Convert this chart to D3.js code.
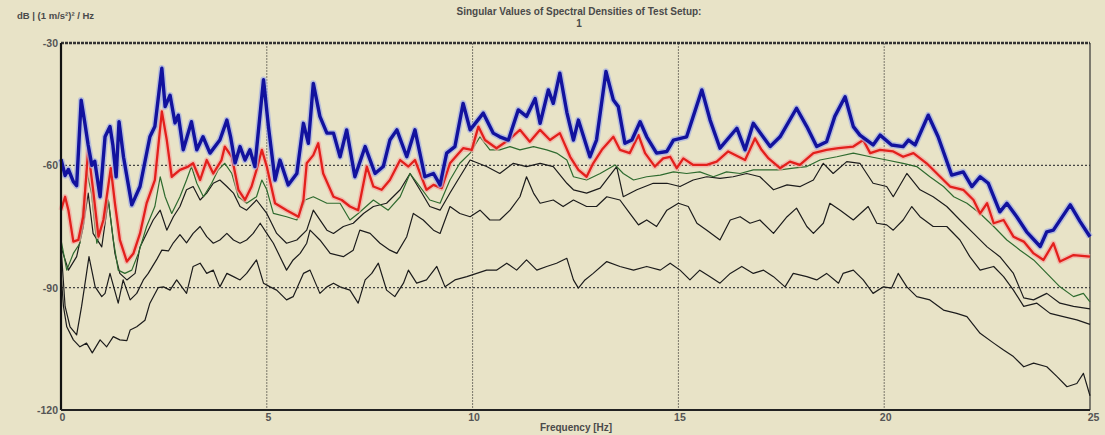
<!DOCTYPE html>
<html>
<head>
<meta charset="utf-8">
<script src="https://cdn.jsdelivr.net/npm/d3@7"></script>
<style>
  html, body { margin: 0; padding: 0; background: #e8e3c7; }
  svg { display: block; }
  text { font-family: "Liberation Sans", Arial, sans-serif; font-weight: bold; fill: #4a4a4a; }
</style>
</head>
<body>
<svg id="chart"></svg>
<script>
// singular value curves, [frequency Hz, dB]
const sv1 = [[0,-58.5],[0.1,-62.5],[0.18,-61],[0.3,-64],[0.38,-65],[0.49,-44],[0.57,-49],[0.66,-55],[0.75,-60],[0.82,-59],[0.95,-67.7],[1.07,-53],[1.19,-50.5],[1.26,-55],[1.34,-62.8],[1.41,-49.3],[1.52,-58],[1.72,-69.7],[1.92,-65.2],[2.16,-53],[2.28,-50.5],[2.45,-36.2],[2.53,-45.6],[2.65,-42.8],[2.77,-49.6],[2.85,-47.7],[2.97,-56.2],[3.17,-49.3],[3.3,-56.2],[3.45,-53],[3.62,-57],[3.86,-53.8],[4.03,-48.9],[4.12,-53],[4.23,-59.4],[4.35,-55.4],[4.47,-58.7],[4.59,-56.2],[4.71,-60.3],[4.92,-39],[5.04,-50.5],[5.2,-63.6],[5.32,-58.7],[5.52,-64.8],[5.73,-62],[5.89,-49.7],[6.01,-54.6],[6.13,-39.9],[6.29,-48],[6.46,-52.1],[6.62,-52.1],[6.78,-57.9],[6.94,-51.3],[7.14,-62.8],[7.39,-55.4],[7.63,-62],[7.83,-60.3],[7.99,-53.8],[8.16,-51.3],[8.4,-57.9],[8.6,-51.3],[8.84,-62.8],[9.05,-62],[9.21,-64.8],[9.37,-57],[9.57,-55.4],[9.77,-44.8],[9.94,-51.3],[10.26,-47.2],[10.5,-52.1],[10.66,-53],[10.87,-53.8],[11.11,-46.4],[11.31,-48],[11.52,-43.6],[11.64,-49.7],[11.84,-41.5],[11.96,-44.8],[12.12,-37.4],[12.29,-47],[12.45,-53.8],[12.57,-48.9],[12.85,-57.9],[13.01,-53.8],[13.24,-37],[13.42,-44],[13.54,-45.6],[13.7,-54.6],[13.87,-53.8],[14.07,-49.3],[14.23,-53],[14.47,-57],[14.72,-56.6],[14.88,-53.8],[15.2,-53],[15.57,-41.5],[15.77,-48.9],[16.01,-55.8],[16.42,-50.9],[16.62,-56.2],[16.82,-49.7],[17.23,-55.4],[17.47,-53],[17.87,-46],[18.12,-50.5],[18.36,-55.4],[18.6,-54.2],[18.8,-48],[19.05,-43.2],[19.25,-50.5],[19.41,-52.6],[19.73,-55],[19.9,-52.6],[20.18,-55],[20.46,-55.4],[20.59,-53.8],[20.75,-55],[21.07,-47.7],[21.31,-53],[21.64,-62.4],[21.92,-61.6],[22.13,-65.2],[22.33,-62.8],[22.53,-64.4],[22.81,-71.4],[22.98,-69.3],[23.22,-72.6],[23.46,-76.3],[23.79,-79.9],[23.95,-76.3],[24.11,-75.9],[24.52,-69.7],[24.76,-73.8],[25,-77.5]];

const sv2 = [[0,-71],[0.1,-67.7],[0.18,-71],[0.3,-78.7],[0.42,-78.3],[0.54,-72.6],[0.66,-56.2],[0.78,-66],[0.91,-77.5],[1.03,-73.4],[1.21,-60.7],[1.31,-69.3],[1.43,-78.3],[1.6,-83.6],[1.76,-81.6],[1.92,-76.7],[2.08,-69.3],[2.28,-63.6],[2.45,-46.8],[2.57,-53.8],[2.69,-62.8],[2.89,-61.1],[3.09,-60.3],[3.21,-59.5],[3.38,-63.6],[3.54,-58.7],[3.7,-62],[3.9,-58.7],[3.98,-55.4],[4.15,-57.9],[4.31,-66],[4.47,-68.5],[4.63,-65.2],[4.75,-61.1],[4.88,-56.2],[5,-60.3],[5.2,-69.3],[5.48,-71],[5.77,-72.6],[5.89,-68.5],[5.97,-59.5],[6.13,-57.5],[6.25,-54.6],[6.37,-62],[6.62,-67.7],[6.82,-68.5],[7.02,-70.1],[7.22,-71],[7.43,-60.3],[7.59,-65.2],[7.79,-66],[7.99,-63.6],[8.24,-58.7],[8.44,-60.3],[8.6,-58.7],[8.88,-66],[9.05,-64.8],[9.25,-65.6],[9.45,-59.5],[9.77,-55.8],[9.98,-56.2],[10.14,-50.5],[10.3,-53.8],[10.58,-55.8],[10.87,-53.8],[11.15,-51.3],[11.39,-54.2],[11.64,-51.3],[11.88,-53.8],[12.12,-52.1],[12.37,-57.9],[12.57,-61.1],[12.77,-62.8],[12.93,-59.5],[13.14,-56.2],[13.42,-53],[13.58,-56.2],[13.82,-57],[14.03,-52.6],[14.19,-57],[14.43,-60.3],[14.63,-58.3],[14.8,-57.9],[14.96,-60.7],[15.12,-58.3],[15.36,-59.9],[15.69,-59.9],[15.93,-59.1],[16.21,-56.6],[16.62,-58.7],[16.86,-53.4],[17.02,-56.2],[17.19,-58.3],[17.47,-60.7],[17.71,-59.1],[17.95,-59.9],[18.28,-57],[18.6,-56.2],[18.89,-55.8],[19.25,-55.4],[19.49,-53.8],[19.66,-57],[19.9,-56.2],[20.22,-56.6],[20.46,-57.9],[20.71,-57],[21.03,-59.5],[21.44,-63.6],[21.6,-65.2],[21.92,-66],[22.17,-68.5],[22.33,-71.8],[22.5,-69.3],[22.66,-74.2],[22.9,-73.4],[23.14,-77.5],[23.39,-78.7],[23.63,-81.6],[23.87,-83.2],[24.11,-79.1],[24.27,-83.6],[24.6,-82],[25,-82.4]];

const sv3 = [[0,-78.3],[0.14,-85.7],[0.3,-81.6],[0.46,-79.1],[0.62,-61.1],[0.74,-66.8],[0.87,-79.1],[1.03,-73.4],[1.15,-68.5],[1.27,-78.3],[1.39,-85.7],[1.55,-86.5],[1.72,-85.7],[1.88,-81.6],[2.08,-75],[2.28,-70.1],[2.41,-62.8],[2.53,-67.7],[2.69,-71.8],[2.89,-67.7],[3.05,-63.6],[3.17,-60.3],[3.3,-64.4],[3.46,-67.7],[3.66,-64.4],[3.82,-61.1],[3.98,-59.5],[4.15,-62],[4.31,-67.7],[4.51,-69.3],[4.75,-67.7],[4.88,-63.6],[5,-66],[5.16,-71.8],[5.48,-72.6],[5.73,-73.4],[5.93,-68.5],[6.13,-67.7],[6.46,-69.3],[6.78,-69.3],[7.02,-73.4],[7.22,-71.8],[7.59,-68.5],[7.95,-71],[8.24,-67.7],[8.48,-62],[8.72,-65.2],[8.96,-68.5],[9.21,-69.3],[9.45,-63.6],[9.69,-59.5],[9.94,-57],[10.18,-53],[10.42,-56.2],[10.66,-56.2],[10.91,-55.4],[11.15,-56.2],[11.48,-55.4],[11.8,-56.2],[12.04,-57],[12.29,-58.7],[12.45,-62.8],[12.77,-63.6],[13.1,-62],[13.46,-59.9],[13.66,-62],[13.91,-63.6],[14.23,-62.8],[14.56,-62.4],[14.88,-61.6],[15.2,-62],[15.52,-61.6],[15.85,-62.8],[16.17,-61.6],[16.5,-62],[16.82,-61.1],[17.15,-61.1],[17.47,-61.1],[17.79,-60.7],[18.12,-60.3],[18.44,-58.7],[18.85,-57.9],[19.25,-57],[19.66,-57.9],[20.06,-58.7],[20.46,-59.5],[20.79,-60.3],[21.11,-62.8],[21.44,-65.2],[21.69,-67.7],[22.01,-69.3],[22.33,-71.8],[22.66,-75],[22.98,-78.3],[23.3,-80.8],[23.63,-83.2],[23.95,-86.5],[24.27,-89.8],[24.6,-92.2],[24.84,-91.4],[25,-93.5]];

const sv4 = [[0,-80],[0.18,-85.7],[0.38,-82.4],[0.54,-75],[0.66,-66.8],[0.78,-76.7],[0.99,-80],[1.15,-68.5],[1.31,-81.6],[1.43,-86.5],[1.6,-88.1],[1.8,-86.5],[1.92,-80],[2.08,-76.7],[2.24,-73.4],[2.41,-71],[2.57,-75.9],[2.73,-72.6],[2.89,-70.1],[3.05,-66],[3.21,-65.2],[3.38,-68.5],[3.54,-66.8],[3.7,-64.4],[3.86,-63.6],[4.03,-65.2],[4.19,-66.8],[4.35,-70.1],[4.51,-71],[4.75,-68.5],[5,-71.8],[5.24,-76.7],[5.48,-79.1],[5.73,-78.3],[5.97,-75.9],[6.13,-71],[6.46,-75.9],[6.62,-76.7],[6.86,-75],[7.1,-74.2],[7.35,-71.8],[7.59,-70.1],[7.91,-69.3],[8.24,-66],[8.48,-62],[8.72,-66],[8.96,-70.1],[9.21,-71],[9.45,-66.8],[9.69,-62.8],[9.94,-58.7],[10.34,-60.3],[10.66,-62],[10.99,-59.5],[11.31,-60.3],[11.64,-59.5],[11.96,-60.3],[12.29,-64.4],[12.45,-66],[12.77,-66.8],[13.1,-65.6],[13.5,-60.3],[13.66,-67.7],[13.99,-66],[14.39,-64.4],[14.72,-64.4],[15.04,-65.2],[15.36,-63.6],[15.69,-62.8],[16.01,-63.2],[16.33,-62.8],[16.66,-62],[16.98,-62.8],[17.31,-66],[17.64,-64.8],[17.96,-65.2],[18.28,-63.6],[18.52,-59.5],[18.76,-62],[19.09,-59.1],[19.41,-59.5],[19.73,-64.4],[20.06,-65.2],[20.22,-67.7],[20.55,-62],[20.87,-66],[21.19,-67.7],[21.52,-70.1],[21.84,-73.4],[22.17,-76.7],[22.5,-80],[22.81,-82.4],[23.14,-86.5],[23.39,-92.5],[23.63,-93],[23.95,-91.4],[24.27,-93.8],[24.6,-94.6],[25,-95.2]];

const sv5 = [[0,-80],[0.1,-94.6],[0.22,-99.6],[0.38,-101.6],[0.5,-94.6],[0.62,-86.5],[0.68,-82.4],[0.83,-89.8],[0.99,-92.2],[1.07,-91.4],[1.19,-86.5],[1.39,-93.8],[1.51,-88.1],[1.68,-93],[1.84,-91.4],[2,-88.1],[2.12,-86.5],[2.33,-83],[2.45,-80.8],[2.61,-81],[2.73,-79],[2.89,-77],[3.05,-79],[3.21,-76.7],[3.38,-75],[3.54,-77.5],[3.7,-79.1],[3.86,-78.3],[4.03,-76.7],[4.19,-78.3],[4.35,-79.1],[4.51,-78.3],[4.67,-76.7],[4.84,-74.2],[5,-76.7],[5.16,-79.1],[5.32,-82.4],[5.48,-85.7],[5.64,-83.2],[5.81,-81.6],[5.97,-79.1],[6.05,-75.9],[6.29,-78.3],[6.54,-81.6],[6.86,-82.4],[7.1,-80.8],[7.26,-75.9],[7.51,-76.7],[7.75,-79.1],[7.99,-80.8],[8.16,-81.6],[8.4,-77.5],[8.56,-71.8],[8.8,-73.4],[9.05,-75.9],[9.21,-76.7],[9.45,-70.1],[9.69,-71.8],[9.94,-72.6],[10.18,-71],[10.42,-73.4],[10.66,-73.4],[10.91,-71],[11.15,-67.7],[11.31,-62.8],[11.48,-66.8],[11.64,-69.3],[11.96,-68.5],[12.2,-70.1],[12.45,-68.5],[12.77,-70.1],[13.01,-70.1],[13.26,-67.7],[13.58,-68.5],[13.82,-71.8],[14.03,-74.6],[14.23,-73.4],[14.47,-75],[14.72,-71],[15,-69.3],[15.24,-70.1],[15.45,-74.2],[15.69,-75.9],[16.01,-78.3],[16.26,-73.4],[16.5,-72.6],[16.74,-74.2],[16.98,-73.4],[17.31,-76.7],[17.64,-72.6],[17.87,-70.5],[18.12,-75],[18.28,-76.7],[18.52,-74.2],[18.68,-69.3],[18.93,-71],[19.25,-73.4],[19.61,-70.1],[19.82,-74.2],[20.06,-74.6],[20.22,-75.9],[20.46,-73.4],[20.67,-70.1],[20.87,-72.6],[21.19,-75],[21.52,-75],[21.84,-78.3],[22.08,-82.4],[22.33,-85.7],[22.66,-84.8],[22.9,-87.3],[23.14,-90.6],[23.39,-94.6],[23.71,-93.8],[24.03,-96.3],[24.35,-97.1],[24.68,-97.9],[25,-99]];

const sv6 = [[0,-86.5],[0.06,-94.6],[0.14,-99.6],[0.3,-102.8],[0.46,-104.5],[0.62,-103.6],[0.76,-106],[0.95,-102.8],[1.11,-104.5],[1.27,-102],[1.43,-102.8],[1.6,-103],[1.68,-100.4],[1.84,-99.6],[2.04,-98],[2.16,-93.8],[2.36,-90],[2.49,-89.8],[2.65,-90.6],[2.81,-88.1],[3.05,-91.4],[3.21,-84.8],[3.38,-84],[3.54,-86.5],[3.7,-85.7],[3.86,-89.8],[4.03,-86.5],[4.19,-87.3],[4.35,-88.1],[4.51,-86.5],[4.75,-83.2],[4.92,-88.9],[5.08,-89.8],[5.24,-90.6],[5.48,-93],[5.64,-92.2],[5.89,-86.5],[6.05,-85.7],[6.29,-91.4],[6.46,-89.8],[6.62,-88.9],[6.78,-89.8],[7.02,-90.6],[7.22,-93.8],[7.39,-88.1],[7.55,-86.5],[7.71,-84],[7.91,-90.6],[8.11,-92.2],[8.32,-88.9],[8.44,-85.7],[8.64,-88.9],[8.88,-88.1],[9.13,-84.8],[9.33,-89.8],[9.57,-88.1],[9.86,-87.3],[10.1,-86.5],[10.34,-85.7],[10.58,-85.7],[10.83,-84],[11.07,-85.7],[11.31,-83.2],[11.56,-85.7],[11.8,-84.8],[12.04,-84],[12.29,-82.8],[12.45,-88.1],[12.57,-90.1],[12.73,-88.1],[12.93,-86.5],[13.26,-83.6],[13.58,-84.8],[13.91,-85.7],[14.23,-84.8],[14.56,-85.7],[14.8,-84],[15.04,-85.7],[15.28,-88.1],[15.52,-85.7],[15.77,-87.3],[16.01,-88.9],[16.26,-86.5],[16.54,-84.8],[16.82,-86.5],[17.07,-85.7],[17.31,-87.3],[17.59,-89.8],[17.79,-86.5],[18.12,-87.3],[18.36,-88.1],[18.6,-86.5],[18.89,-88.9],[19,-86.5],[19.25,-85.7],[19.49,-88.1],[19.73,-91.4],[19.98,-89.8],[20.18,-90.1],[20.34,-86.5],[20.55,-89.8],[20.79,-92.2],[21.11,-93],[21.44,-95.5],[21.76,-96.3],[22.01,-97.1],[22.33,-101.2],[22.66,-103.6],[22.9,-105.3],[23.14,-106.9],[23.39,-109.4],[23.63,-108.5],[23.95,-109.4],[24.2,-111.8],[24.44,-114.3],[24.68,-113.5],[24.84,-111],[25,-116.5]];

const xTicks = [0, 5, 10, 15, 20, 25];
const yTicks = [-30, -60, -90, -120];
const titleLines = ["Singular Values of Spectral Densities of Test Setup:", "1"];

const W = 1105, H = 435;
const margin = { top: 43, right: 15, bottom: 25, left: 61 };
const width = W - margin.left - margin.right;
const height = H - margin.top - margin.bottom;

const svg = d3.select('#chart').attr('width', W).attr('height', H);
svg.append('rect').attr('width', W).attr('height', H).attr('fill', '#e8e3c7');

const g = svg.append('g').attr('transform', `translate(${margin.left},${margin.top})`);

const x = d3.scaleLinear().domain([0, 25]).range([0, width]);
const y = d3.scaleLinear().domain([-120, -30]).range([height, 0]);

// grid
g.selectAll('.vgrid')
  .data(xTicks.slice(1, -1))
  .enter().append('line')
  .attr('x1', d => x(d)).attr('x2', d => x(d))
  .attr('y1', 0).attr('y2', height)
  .attr('stroke', '#7a776a').attr('stroke-width', 1)
  .attr('stroke-dasharray', '2,1');

g.selectAll('.hgrid')
  .data(yTicks.slice(1, -1))
  .enter().append('line')
  .attr('x1', 0).attr('x2', width)
  .attr('y1', d => y(d)).attr('y2', d => y(d))
  .attr('stroke', '#444').attr('stroke-width', 1.3)
  .attr('stroke-dasharray', '2,2');

// frame
g.append('line').attr('x1', 0).attr('x2', width).attr('y1', 0).attr('y2', 0)
  .attr('stroke', '#333').attr('stroke-width', 2.5).attr('stroke-dasharray', '3,1');
g.append('line').attr('x1', width).attr('x2', width).attr('y1', 0).attr('y2', height)
  .attr('stroke', '#333').attr('stroke-width', 1.2);

const line = d3.line().x(d => x(d[0])).y(d => y(d[1]));

const series = [
  { data: sv6, color: '#1c1c1c', w: 1.2 },
  { data: sv5, color: '#1c1c1c', w: 1.2 },
  { data: sv4, color: '#1c1c1c', w: 1.2 },
  { data: sv3, color: '#2f6b2f', w: 1.2 },
  { data: sv2, color: '#e3201c', w: 2.3, halo: '#f3a9a3' },
  { data: sv1, color: '#12129e', w: 3.4, halo: '#a3aee3' }
];

series.forEach(s => {
  if (s.halo) {
    g.append('path').datum(s.data).attr('d', line)
      .attr('fill', 'none').attr('stroke', s.halo)
      .attr('stroke-width', s.w + 3).attr('stroke-linejoin', 'round')
      .attr('opacity', 0.7);
  }
  g.append('path').datum(s.data).attr('d', line)
    .attr('fill', 'none').attr('stroke', s.color)
    .attr('stroke-width', s.w).attr('stroke-linejoin', 'round');
});

// axes
const yAxis = g.append('g')
  .call(d3.axisLeft(y).tickValues(yTicks).tickSize(0).tickPadding(3).tickFormat(d => String(d)));
yAxis.select('.domain').remove();
yAxis.selectAll('text').attr('font-size', 10.5).style('fill', '#555');

const xAxis = g.append('g')
  .attr('transform', `translate(0,${height})`)
  .call(d3.axisBottom(x).tickValues(xTicks).tickSize(0).tickPadding(4).tickFormat(d => String(d)));
xAxis.select('.domain').remove();
xAxis.selectAll('text').attr('font-size', 10.5).style('fill', '#555')
  .attr('dx', d => d === 25 ? 3 : 1);

g.append('line').attr('x1', 0).attr('x2', 0).attr('y1', 0).attr('y2', height)
  .attr('stroke', '#111').attr('stroke-width', 2.2);
g.append('line').attr('x1', 0).attr('x2', width).attr('y1', height).attr('y2', height)
  .attr('stroke', '#222').attr('stroke-width', 2.2);

// titles
svg.selectAll('.title')
  .data(titleLines)
  .enter().append('text')
  .attr('x', 579).attr('y', (d, i) => 15 + i * 12)
  .attr('text-anchor', 'middle').attr('font-size', 10)
  .text(d => d);

svg.append('text').attr('x', 17).attr('y', 19)
  .attr('font-size', 9.5).text('dB | (1 m/s²)² / Hz');

svg.append('text').attr('x', 576).attr('y', 431)
  .attr('text-anchor', 'middle').attr('font-size', 10)
  .text('Frequency [Hz]');
</script>
</body>
</html>
